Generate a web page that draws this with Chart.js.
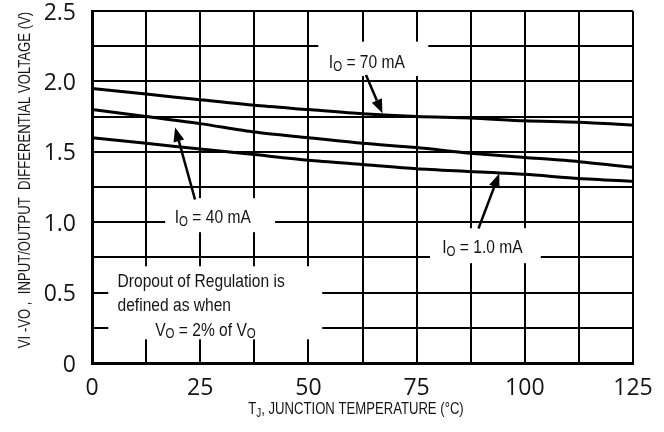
<!DOCTYPE html>
<html>
<head>
<meta charset="utf-8">
<script src="https://cdn.jsdelivr.net/npm/chart.js@4.4.1/dist/chart.umd.min.js"></script>
<style>
  html, body { margin: 0; padding: 0; background: #fff; }
  canvas { display: block; }
</style>
</head>
<body>
<canvas id="dropout-chart" width="664" height="432"></canvas>
<script>
// Junction temperature (°C) sample points
const temps = [0, 12.5, 25, 37.5, 50, 62.5, 75, 87.5, 100, 112.5, 125];
// Input/output differential voltage (V) per load current
const io70mA = [1.95, 1.91, 1.87, 1.83, 1.80, 1.77, 1.75, 1.74, 1.72, 1.71, 1.69];
const io40mA = [1.80, 1.75, 1.70, 1.64, 1.60, 1.56, 1.53, 1.49, 1.46, 1.43, 1.39];
const io1mA  = [1.60, 1.56, 1.52, 1.48, 1.44, 1.41, 1.38, 1.36, 1.34, 1.31, 1.29];

const xTickLabels = [0, 25, 50, 75, 100, 125];
const yTickLabels = [0, 0.5, 1.0, 1.5, 2.0, 2.5];

// narrow look: Arial-metric font squeezed horizontally
const FACE = '"Liberation Sans", Arial, sans-serif';
const SQUEEZE = 0.82;
const INK = '#151515';

// Callout labels, in data coordinates
const callouts = [
    { text: [['I'], ['O', true], [' = 70 mA']], box: [52.3, 2.282, 77.7, 2.038], at: [63.5, 2.13], tail: [63.3, 2.045], tip: [67.1, 1.773] },
    { text: [['I'], ['O', true], [' = 40 mA']], box: [16.9, 1.171, 42.3, 0.929], at: [27.9, 1.03], tail: [23.8, 1.161], tip: [19.2, 1.673] },
    { text: [['I'], ['O', true], [' = 1.0 mA']], box: [78.1, 0.957, 103.7, 0.709], at: [90.2, 0.815], tail: [89.3, 0.955], tip: [94.1, 1.346] }
];

const note = {
    box: [3.76, 0.687, 53.2, 0.168],
    lines: [
        { x: 5.9, y: 0.576, text: [['Dropout of Regulation is']] },
        { x: 5.9, y: 0.41, text: [['defined as when']] },
        { x: 14.6, y: 0.232, text: [['V'], ['O', true], [' = 2% of V'], ['O', true]] }
    ]
};

function segFont(size, sub) {
    return (sub ? Math.round(size * 0.72) : size) + 'px ' + FACE;
}

function richWidth(ctx, segs, size) {
    let w = 0;
    segs.forEach(s => { ctx.font = segFont(size, s[1]); w += ctx.measureText(s[0]).width; });
    return w * SQUEEZE;
}

function drawRich(ctx, segs, x, y, size) {
    ctx.save();
    ctx.translate(x, y);
    ctx.scale(SQUEEZE, 1);
    ctx.textBaseline = 'middle';
    ctx.textAlign = 'left';
    ctx.fillStyle = INK;
    let cx = 0;
    segs.forEach(s => {
        ctx.font = segFont(size, s[1]);
        ctx.fillText(s[0], cx, s[1] ? size * 0.22 : 0);
        cx += ctx.measureText(s[0]).width;
    });
    ctx.restore();
}

function drawArrow(ctx, x0, y0, x1, y1) {
    const ang = Math.atan2(y1 - y0, x1 - x0);
    const len = 14, half = 5.5;
    const bx = x1 - len * Math.cos(ang), by = y1 - len * Math.sin(ang);
    ctx.strokeStyle = '#000';
    ctx.fillStyle = '#000';
    ctx.lineWidth = 2.5;
    ctx.beginPath();
    ctx.moveTo(x0, y0);
    ctx.lineTo(bx, by);
    ctx.stroke();
    ctx.beginPath();
    ctx.moveTo(x1, y1);
    ctx.lineTo(bx + half * Math.sin(ang), by - half * Math.cos(ang));
    ctx.lineTo(bx - half * Math.sin(ang), by + half * Math.cos(ang));
    ctx.closePath();
    ctx.fill();
}

function whiteBox(ctx, xs, ys, b) {
    const l = xs.getPixelForValue(b[0]), t = ys.getPixelForValue(b[1]);
    const r = xs.getPixelForValue(b[2]), btm = ys.getPixelForValue(b[3]);
    ctx.fillStyle = '#fff';
    ctx.fillRect(l, t, r - l, btm - t);
}

const calloutPlugin = {
    id: 'callouts',
    afterDatasetsDraw(chart) {
        const { ctx, scales: { x, y } } = chart;
        ctx.save();
        callouts.forEach(c => {
            whiteBox(ctx, x, y, c.box);
            const w = richWidth(ctx, c.text, 19);
            drawRich(ctx, c.text, x.getPixelForValue(c.at[0]) - w / 2, y.getPixelForValue(c.at[1]), 19);
            drawArrow(ctx, x.getPixelForValue(c.tail[0]), y.getPixelForValue(c.tail[1]),
                x.getPixelForValue(c.tip[0]), y.getPixelForValue(c.tip[1]));
        });
        whiteBox(ctx, x, y, note.box);
        note.lines.forEach(l => drawRich(ctx, l.text, x.getPixelForValue(l.x), y.getPixelForValue(l.y), 19));

        // axis titles
        const xt = [['T'], ['J', true], [', JUNCTION TEMPERATURE (°C)']];
        const w = richWidth(ctx, xt, 16);
        drawRich(ctx, xt, 356 - w / 2, 410, 16);

        ctx.translate(26, 180);
        ctx.rotate(-Math.PI / 2);
        ctx.scale(SQUEEZE, 1);
        ctx.font = '16px ' + FACE;
        ctx.fillStyle = INK;
        ctx.textAlign = 'center';
        ctx.textBaseline = 'middle';
        ctx.fillText('VI -VO ,  INPUT/OUTPUT  DIFFERENTIAL VOLTAGE (V)', 0, 0);
        ctx.restore();
    }
};

function series(values) {
    return values.map((v, i) => ({ x: temps[i], y: v }));
}

const lineStyle = { borderColor: '#000', borderWidth: 3, pointRadius: 0, tension: 0.25, fill: false };

new Chart(document.getElementById('dropout-chart'), {
    type: 'line',
    data: {
        datasets: [
            { label: 'IO = 70 mA', data: series(io70mA), ...lineStyle },
            { label: 'IO = 40 mA', data: series(io40mA), ...lineStyle },
            { label: 'IO = 1.0 mA', data: series(io1mA), ...lineStyle }
        ]
    },
    options: {
        responsive: false,
        animation: false,
        devicePixelRatio: 1,
        layout: { padding: { top: 11, right: 31, left: 0, bottom: 0 } },
        plugins: { legend: { display: false }, tooltip: { enabled: false } },
        scales: {
            x: {
                type: 'linear',
                min: 0,
                max: 125,
                grid: { color: '#000', lineWidth: 2, drawTicks: false },
                border: { display: true, color: '#000', width: 3 },
                ticks: {
                    stepSize: 12.5,
                    autoSkip: false,
                    maxRotation: 0,
                    padding: 12,
                    color: INK,
                    font: { family: 'Open Sans', size: 23 },
                    callback: v => xTickLabels.includes(v) ? String(v) : ''
                },
                afterFit: s => { s.height = 69; s.paddingLeft = 0; s.paddingRight = 0; }
            },
            y: {
                min: 0,
                max: 2.5,
                grid: { color: '#000', lineWidth: 2, drawTicks: false },
                border: { display: true, color: '#000', width: 3 },
                ticks: {
                    stepSize: 0.25,
                    autoSkip: false,
                    padding: 16,
                    labelOffset: 2,
                    color: INK,
                    font: { family: 'Open Sans', size: 23 },
                    callback: v => {
                        const hit = yTickLabels.find(t => Math.abs(t - v) < 1e-6);
                        if (hit === undefined) return '';
                        return hit === 0 ? '0' : hit.toFixed(1);
                    }
                },
                afterFit: s => { s.width = 92; s.paddingTop = 0; s.paddingBottom = 0; }
            }
        }
    },
    plugins: [calloutPlugin]
});
</script>
</body>
</html>
